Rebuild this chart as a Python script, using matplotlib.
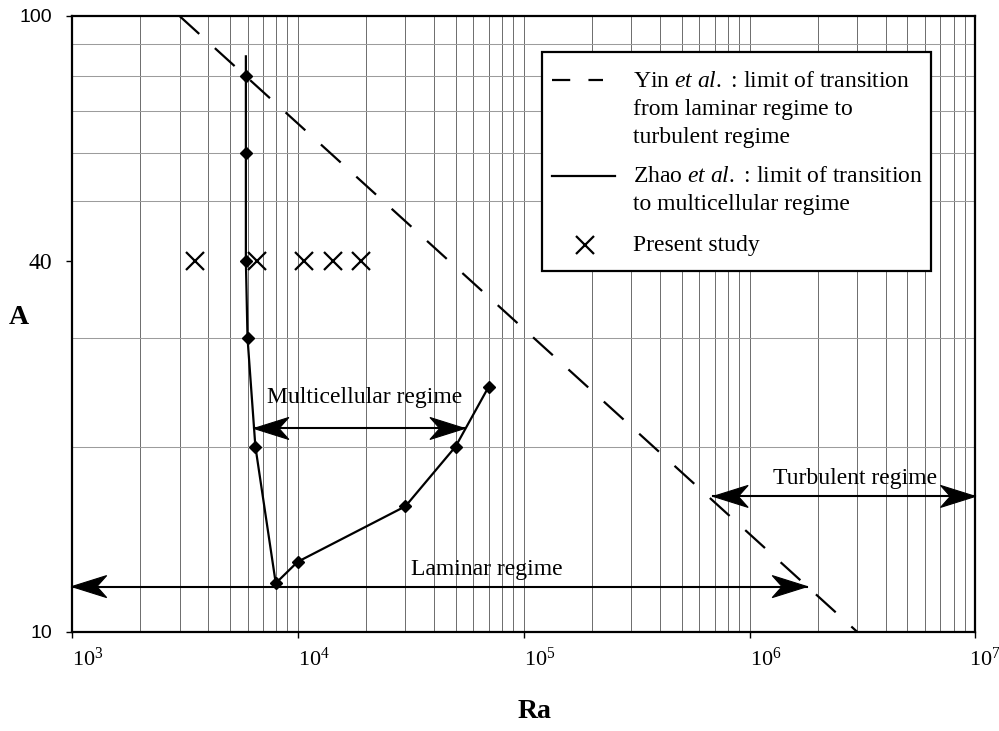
import matplotlib
matplotlib.use("Agg")
import matplotlib.pyplot as plt
import matplotlib.transforms as mtransforms
from matplotlib.lines import Line2D
from matplotlib.patches import Rectangle, Polygon
from matplotlib.ticker import FixedLocator, NullFormatter, LogLocator

plt.rcParams["font.family"] = ["Liberation Serif", "DejaVu Serif"]
plt.rcParams["mathtext.fontset"] = "custom"
plt.rcParams["mathtext.rm"] = "Liberation Serif"
plt.rcParams["mathtext.it"] = "Liberation Serif:italic"
plt.rcParams["mathtext.bf"] = "Liberation Serif:bold"

# --- data ---------------------------------------------------------------
# Yin et al.: laminar -> turbulent transition limit
ra_yin = [3.0e3, 3.0e6]
a_yin = [100, 10]

# Zhao et al.: limit of transition to multicellular regime
ra_zhao = [5.9e3, 5.9e3, 5.9e3, 5.9e3, 6.0e3, 6.5e3, 8.0e3, 1.0e4, 3.0e4, 5.0e4, 7.0e4]
a_zhao = [86, 80, 60, 40, 30, 20, 12, 13, 16, 20, 25]

# Present study
ra_present = [3.5e3, 6.6e3, 1.07e4, 1.44e4, 1.9e4]
a_present = [40, 40, 40, 40, 40]

# Regime arrows: (Ra start, Ra end, A)
regime_names = ["Multicellular regime", "Turbulent regime", "Laminar regime"]
regime_ra_start = [6.4e3, 6.9e5, 1.0e3]
regime_ra_end = [5.5e4, 1.0e7, 1.8e6]
regime_a = [21.4, 16.6, 11.85]
regime_label_ra = [1.97e4, 2.93e6, 6.9e4]
regime_label_a = [23.5, 17.4, 12.37]

x_ticks = [1e3, 1e4, 1e5, 1e6, 1e7]
x_tick_labels = [r"$10^{3}$", r"$10^{4}$", r"$10^{5}$", r"$10^{6}$", r"$10^{7}$"]
y_ticks = [10, 40, 100]
y_tick_labels = ["10", "40", "100"]
y_grid = [20, 30, 40, 50, 60, 70, 80, 90]

# --- figure -------------------------------------------------------------
W, H = 999, 731
fig = plt.figure(figsize=(W / 100, H / 100), dpi=100)
L, R, T, B = 71.7, 975.5, 16.0, 632.0
ax = fig.add_axes([L / W, 1 - B / H, (R - L) / W, (B - T) / H])
ax.set_xscale("log")
ax.set_yscale("log")
ax.set_xlim(1e3, 1e7)
ax.set_ylim(10, 100)

# grid
ax.xaxis.set_minor_locator(LogLocator(base=10, subs=range(2, 10)))
ax.xaxis.set_minor_formatter(NullFormatter())
ax.yaxis.set_minor_locator(FixedLocator(y_grid))
ax.yaxis.set_minor_formatter(NullFormatter())
ax.grid(True, axis="x", which="both", color="#555555", lw=0.6)
ax.grid(True, axis="y", which="minor", color="#9c9c9c", lw=0.75)
ax.set_axisbelow(True)

# x tick labels sit to the right of their tick
ax.set_xticks(x_ticks)
ax.set_xticklabels([])
xlab_trans = mtransforms.blended_transform_factory(ax.transData, ax.transAxes)
for i, (xv, lab) in enumerate(zip(x_ticks, x_tick_labels)):
    dx = -5 if i == len(x_ticks) - 1 else 0
    tr = mtransforms.offset_copy(xlab_trans, fig=fig, x=dx, y=-11, units="points")
    ax.text(xv, 0, lab, transform=tr, ha="left", va="top", fontsize=16, clip_on=False)

ax.set_yticks(y_ticks)
ax.set_yticklabels(y_tick_labels)
for lab, txt in zip(ax.get_yticklabels(), y_tick_labels):
    if txt == "40":
        lab.set_fontfamily("Liberation Serif")
        lab.set_fontsize(17)
    else:
        lab.set_fontfamily("Liberation Sans")
        lab.set_fontsize(14)
ax.tick_params(axis="both", which="major", direction="out", length=4, width=1.0, color="black")
ax.tick_params(axis="y", which="major", pad=10)
ax.tick_params(axis="both", which="minor", length=0)
for sp in ax.spines.values():
    sp.set_linewidth(1.6)
    sp.set_color("black")

# curves
ax.plot(ra_yin, a_yin, color="black", lw=1.6, dashes=(12, 9.5), zorder=3)
ax.plot(ra_zhao, a_zhao, color="black", lw=1.6, marker="D", markersize=5.8,
        markevery=list(range(1, len(ra_zhao))), zorder=4)
ax.plot(ra_present, a_present, ls="none", marker="x", markersize=13,
        markeredgewidth=1.6, color="black", zorder=4)


# stealth-style double arrows, heads built in pixel space
def arrow_head(tip, direction, length=35.0, half_width=11.0, notch=0.72):
    tx, ty = tip
    d = direction
    pts = [(tx, ty),
           (tx - d * length, ty + half_width),
           (tx - d * length * notch, ty),
           (tx - d * length, ty - half_width)]
    return Polygon(pts, closed=True, transform=mtransforms.IdentityTransform(),
                   facecolor="black", edgecolor="black", lw=0.8, zorder=6)


for name, x0, x1, a, lx, la in zip(regime_names, regime_ra_start, regime_ra_end,
                                   regime_a, regime_label_ra, regime_label_a):
    ax.plot([x0, x1], [a, a], color="black", lw=1.5, zorder=5, clip_on=False)
    p0 = ax.transData.transform((x0, a))
    p1 = ax.transData.transform((x1, a))
    fig.add_artist(arrow_head(p0, -1))
    fig.add_artist(arrow_head(p1, 1))
    ax.text(lx, la, name, ha="center", va="baseline", fontsize=17, zorder=6)

# axis labels
fig.text(19 / W, 1 - 317 / H, "A", fontsize=20, fontweight="bold",
         ha="center", va="center")
fig.text(535 / W, 1 - 712 / H, "Ra", fontsize=20, fontweight="bold",
         ha="center", va="center")


# legend box drawn in figure pixels
def fx(x):
    return x / W


def fy(y):
    return 1 - y / H


fig.add_artist(Rectangle((fx(541.7), fy(270.7)), fx(930.7) - fx(541.7),
                         fy(51.7) - fy(270.7), transform=fig.transFigure,
                         facecolor="white", edgecolor="black", lw=1.6, zorder=10))
fig.add_artist(Line2D([fx(551.7), fx(603.3)], [fy(80), fy(80)], transform=fig.transFigure,
                      color="black", lw=1.6, dashes=(8.2, 8.2), zorder=11))
fig.add_artist(Line2D([fx(551.7), fx(615)], [fy(175.7), fy(175.7)], transform=fig.transFigure,
                      color="black", lw=1.6, zorder=11))
fig.add_artist(Line2D([fx(585)], [fy(245)], transform=fig.transFigure, ls="none",
                      marker="x", markersize=13, markeredgewidth=1.6, color="black", zorder=11))
legend_lines = [
    (86.7, r"Yin $\mathit{et\ al.}$ : limit of transition"),
    (115.0, "from laminar regime to"),
    (143.0, "turbulent regime"),
    (182.0, r"Zhao $\mathit{et\ al.}$ : limit of transition"),
    (210.0, "to multicellular regime"),
    (250.5, "Present study"),
]
for yb, txt in legend_lines:
    fig.text(fx(633.3), fy(yb), txt, fontsize=17, ha="left", va="baseline", zorder=12)

fig.savefig("out.png", dpi=100)
